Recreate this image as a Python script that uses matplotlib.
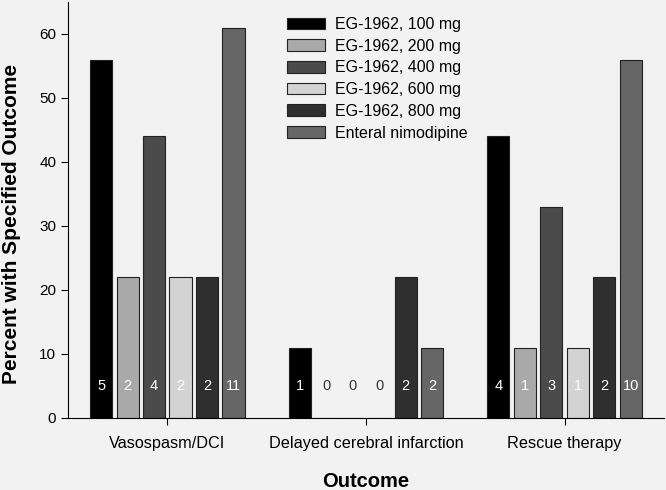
import numpy as np
import matplotlib
matplotlib.use("Agg")
import matplotlib.pyplot as plt

plt.rcParams['font.family'] = ['Liberation Sans', 'DejaVu Sans']

outcomes = ['Vasospasm/DCI', 'Delayed cerebral infarction', 'Rescue therapy']
groups = ['EG-1962, 100 mg', 'EG-1962, 200 mg', 'EG-1962, 400 mg',
          'EG-1962, 600 mg', 'EG-1962, 800 mg', 'Enteral nimodipine']
percent_100 = [56, 11, 44]
percent_200 = [22, 0, 11]
percent_400 = [44, 0, 33]
percent_600 = [22, 0, 11]
percent_800 = [22, 22, 22]
percent_nimo = [61, 11, 56]
n_100 = [5, 1, 4]
n_200 = [2, 0, 1]
n_400 = [4, 0, 3]
n_600 = [2, 0, 1]
n_800 = [2, 2, 2]
n_nimo = [11, 2, 10]

percents = [percent_100, percent_200, percent_400, percent_600, percent_800, percent_nimo]
counts = [n_100, n_200, n_400, n_600, n_800, n_nimo]
colors = ['#000000', '#a9a9a9', '#4b4b4b', '#d3d3d3', '#2f2f2f', '#666666']

bg = '#f2f2f2'
fig = plt.figure(figsize=(6.66, 4.9), dpi=100, facecolor=bg)
ax = fig.add_axes([0.102, 0.147, 0.895, 0.849], facecolor=bg)

x = np.arange(len(outcomes))
slot = 0.1333
width = 0.111
for i, (vals, ns) in enumerate(zip(percents, counts)):
    pos = x + (i - 2.5) * slot
    ax.bar(pos, vals, width, color=colors[i], edgecolor='#222222',
           linewidth=0.8, label=groups[i])
    for p, v, n in zip(pos, vals, ns):
        # zero bars get a dark label, the others a white one
        ax.text(p, 5, str(n), ha='center', va='center', fontsize=10.5,
                color='white' if v > 0 else '#333333')

ax.set_xlim(-0.5, 2.5)
ax.set_ylim(0, 65)
ax.set_yticks(range(0, 61, 10))
ax.set_xticks(x)
ax.set_xticklabels(outcomes, fontsize=11.7)
ax.tick_params(axis='y', labelsize=11, direction='out', length=5)
ax.tick_params(axis='x', direction='out', length=5, pad=8)
ax.spines['top'].set_visible(False)
ax.spines['right'].set_visible(False)
ax.set_xlabel('Outcome', fontsize=14.5, fontweight='bold', labelpad=15)
ax.set_ylabel('Percent with Specified Outcome', fontsize=15, fontweight='bold')
ax.yaxis.set_label_coords(-0.078, 0.466)

ax.legend(loc='upper left', bbox_to_anchor=(287 / 666, 1 - 17 / 490),
          bbox_transform=fig.transFigure, frameon=False, fontsize=11.5,
          handlelength=2.4, handleheight=0.75, handletextpad=0.6,
          labelspacing=0.42, borderpad=0, borderaxespad=0)

fig.savefig('out.png', dpi=100, facecolor=bg)
